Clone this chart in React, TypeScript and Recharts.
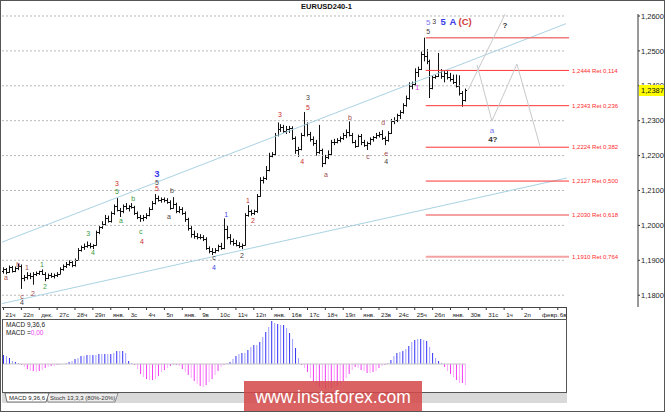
import { ComposedChart, Bar, Cell, XAxis, YAxis, ReferenceLine, ReferenceDot } from 'recharts'

// EURUSD H4, one row per trading day (6 bars)
const dayLabels = ['21ч', '22п', 'дек.', '27с', '28ч', '29п', 'янв.', '3с', '4ч', '5п', 'янв.', '9в', '10с', '11ч', '12п', 'янв.',
  '16в', '17с', '18ч', '19п', 'янв.', '23в', '24с', '25ч', '26п', 'янв.', '30в', '31с', '1ч', '2п', 'февр.', '6в']

const opens = [
  1.1870, 1.1875, 1.1866, 1.1880, 1.1870, 1.1878,
  1.1885, 1.1848, 1.1852, 1.1858, 1.1855, 1.1860,
  1.1864, 1.1868, 1.1862, 1.1850, 1.1858, 1.1855,
  1.1858, 1.1862, 1.1876, 1.1884, 1.1890, 1.1894,
  1.1886, 1.1902, 1.1930, 1.1938, 1.1942, 1.1945,
  1.1940, 1.1944, 1.1980, 1.1994, 1.2005, 1.2020,
  1.2012, 1.2035, 1.2055, 1.2045, 1.2040, 1.2055,
  1.2050, 1.2055, 1.2052, 1.2035, 1.2025, 1.2020,
  1.2025, 1.2030, 1.2048, 1.2065, 1.2078, 1.2072,
  1.2075, 1.2072, 1.2068, 1.2050, 1.2060, 1.2040,
  1.2048, 1.2035, 1.2018, 1.1992, 1.1975, 1.1970,
  1.1968, 1.1966, 1.1962, 1.1935, 1.1928, 1.1925,
  1.1930, 1.1940, 1.1935, 1.1990, 1.1968, 1.1955,
  1.1950, 1.1945, 1.1940, 1.1945, 1.2030, 1.2040,
  1.2035, 1.2040, 1.2085, 1.2130, 1.2135, 1.2160,
  1.2200, 1.2205, 1.2258, 1.2275, 1.2282, 1.2270,
  1.2275, 1.2280, 1.2250, 1.2215, 1.2220, 1.2258,
  1.2290, 1.2262, 1.2248, 1.2235, 1.2210, 1.2215,
  1.2180, 1.2195, 1.2205, 1.2238, 1.2240, 1.2245,
  1.2250, 1.2260, 1.2268, 1.2260, 1.2240, 1.2228,
  1.2255, 1.2238, 1.2230, 1.2235, 1.2248, 1.2252,
  1.2260, 1.2262, 1.2250, 1.2245, 1.2265, 1.2298,
  1.2302, 1.2315, 1.2325, 1.2345, 1.2365, 1.2400,
  1.2405, 1.2440, 1.2448, 1.2490, 1.2485, 1.2470,
  1.2395, 1.2425, 1.2428, 1.2440, 1.2428, 1.2438,
  1.2425, 1.2420, 1.2410, 1.2400, 1.2378, 1.2360,
]
const highs = [
  1.1880, 1.1878, 1.1885, 1.1884, 1.1882, 1.1890,
  1.1888, 1.1858, 1.1866, 1.1864, 1.1866, 1.1868,
  1.1870, 1.1874, 1.1866, 1.1862, 1.1864, 1.1862,
  1.1866, 1.1880, 1.1888, 1.1895, 1.1900, 1.1898,
  1.1905, 1.1935, 1.1942, 1.1948, 1.1954, 1.1950,
  1.1946, 1.1985, 1.1998, 1.2012, 1.2030, 1.2028,
  1.2040, 1.2060, 1.2078, 1.2050, 1.2060, 1.2064,
  1.2058, 1.2064, 1.2056, 1.2040, 1.2030, 1.2030,
  1.2035, 1.2052, 1.2070, 1.2090, 1.2085, 1.2080,
  1.2080, 1.2078, 1.2072, 1.2081, 1.2065, 1.2055,
  1.2052, 1.2040, 1.2022, 1.1998, 1.1985, 1.1978,
  1.1975, 1.1972, 1.1966, 1.1940, 1.1935, 1.1935,
  1.1945, 1.1950, 1.2020, 1.2000, 1.1975, 1.1962,
  1.1958, 1.1952, 1.1948, 1.2035, 1.2058, 1.2045,
  1.2045, 1.2090, 1.2138, 1.2140, 1.2170, 1.2208,
  1.2210, 1.2265, 1.2295, 1.2290, 1.2288, 1.2285,
  1.2285, 1.2284, 1.2255, 1.2225, 1.2265, 1.2325,
  1.2295, 1.2268, 1.2255, 1.2245, 1.2288, 1.2220,
  1.2202, 1.2215, 1.2245, 1.2248, 1.2250, 1.2255,
  1.2265, 1.2275, 1.2298, 1.2265, 1.2245, 1.2260,
  1.2262, 1.2245, 1.2240, 1.2252, 1.2256, 1.2265,
  1.2268, 1.2273, 1.2255, 1.2270, 1.2305, 1.2310,
  1.2320, 1.2330, 1.2350, 1.2372, 1.2410, 1.2412,
  1.2450, 1.2455, 1.2498, 1.2538, 1.2505, 1.2475,
  1.2430, 1.2432, 1.2494, 1.2448, 1.2445, 1.2442,
  1.2437, 1.2432, 1.2432, 1.2430, 1.2385, 1.2392,
]
const lows = [
  1.1862, 1.1860, 1.1864, 1.1865, 1.1866, 1.1872,
  1.1818, 1.1840, 1.1845, 1.1846, 1.1830, 1.1855,
  1.1858, 1.1858, 1.1840, 1.1846, 1.1850, 1.1848,
  1.1852, 1.1860, 1.1870, 1.1878, 1.1884, 1.1880,
  1.1882, 1.1900, 1.1925, 1.1930, 1.1936, 1.1934,
  1.1932, 1.1942, 1.1975, 1.1990, 1.2000, 1.2008,
  1.2008, 1.2030, 1.2040, 1.2024, 1.2035, 1.2045,
  1.2040, 1.2048, 1.2030, 1.2018, 1.2010, 1.2012,
  1.2018, 1.2026, 1.2044, 1.2060, 1.2068, 1.2065,
  1.2066, 1.2062, 1.2045, 1.2048, 1.2035, 1.2035,
  1.2030, 1.2010, 1.1985, 1.1965, 1.1962, 1.1960,
  1.1960, 1.1955, 1.1930, 1.1920, 1.1915, 1.1920,
  1.1925, 1.1930, 1.1932, 1.1960, 1.1945, 1.1942,
  1.1940, 1.1935, 1.1932, 1.1942, 1.2025, 1.2028,
  1.2030, 1.2036, 1.2082, 1.2120, 1.2130, 1.2155,
  1.2195, 1.2200, 1.2255, 1.2268, 1.2265, 1.2262,
  1.2265, 1.2245, 1.2205, 1.2196, 1.2215, 1.2255,
  1.2255, 1.2240, 1.2228, 1.2200, 1.2205, 1.2167,
  1.2175, 1.2190, 1.2200, 1.2230, 1.2235, 1.2238,
  1.2245, 1.2250, 1.2255, 1.2235, 1.2222, 1.2225,
  1.2230, 1.2225, 1.2216, 1.2230, 1.2240, 1.2248,
  1.2252, 1.2245, 1.2230, 1.2240, 1.2262, 1.2290,
  1.2296, 1.2305, 1.2320, 1.2340, 1.2360, 1.2390,
  1.2400, 1.2425, 1.2445, 1.2470, 1.2462, 1.2365,
  1.2390, 1.2420, 1.2425, 1.2420, 1.2410, 1.2418,
  1.2412, 1.2405, 1.2395, 1.2372, 1.2340, 1.2355,
]
const closes = [
  1.1875, 1.1866, 1.1880, 1.1870, 1.1878, 1.1885,
  1.1848, 1.1852, 1.1858, 1.1855, 1.1860, 1.1864,
  1.1868, 1.1862, 1.1850, 1.1858, 1.1855, 1.1858,
  1.1862, 1.1876, 1.1884, 1.1890, 1.1894, 1.1886,
  1.1902, 1.1930, 1.1938, 1.1942, 1.1945, 1.1940,
  1.1944, 1.1980, 1.1994, 1.2005, 1.2020, 1.2012,
  1.2035, 1.2055, 1.2045, 1.2040, 1.2055, 1.2050,
  1.2055, 1.2052, 1.2035, 1.2025, 1.2020, 1.2025,
  1.2030, 1.2048, 1.2065, 1.2078, 1.2072, 1.2075,
  1.2072, 1.2068, 1.2050, 1.2060, 1.2040, 1.2048,
  1.2035, 1.2018, 1.1992, 1.1975, 1.1970, 1.1968,
  1.1966, 1.1962, 1.1935, 1.1928, 1.1925, 1.1930,
  1.1940, 1.1935, 1.1990, 1.1968, 1.1955, 1.1950,
  1.1945, 1.1940, 1.1945, 1.2030, 1.2040, 1.2035,
  1.2040, 1.2085, 1.2130, 1.2135, 1.2160, 1.2200,
  1.2205, 1.2258, 1.2275, 1.2282, 1.2270, 1.2275,
  1.2280, 1.2250, 1.2215, 1.2220, 1.2258, 1.2290,
  1.2262, 1.2248, 1.2235, 1.2210, 1.2215, 1.2180,
  1.2195, 1.2205, 1.2238, 1.2240, 1.2245, 1.2250,
  1.2260, 1.2268, 1.2260, 1.2240, 1.2228, 1.2255,
  1.2238, 1.2230, 1.2235, 1.2248, 1.2252, 1.2260,
  1.2262, 1.2250, 1.2245, 1.2265, 1.2298, 1.2302,
  1.2315, 1.2325, 1.2345, 1.2365, 1.2400, 1.2405,
  1.2440, 1.2448, 1.2490, 1.2485, 1.2470, 1.2395,
  1.2425, 1.2428, 1.2440, 1.2428, 1.2438, 1.2425,
  1.2420, 1.2410, 1.2400, 1.2378, 1.2360, 1.2387,
]
// MACD 9,36,6 histogram, in points (0.0001)
const macdPts = [
  9, 8, 6, 3, 2, 1,
  -1, -3, -5, -7, -7, -8,
  -7, -6, -4, -3, -2, -2,
  -1, -1, 0, 1, 2, 3,
  5, 6, 8, 8, 9, 9,
  9, 9, 10, 10, 10, 10,
  10, 11, 13, 13, 13, 11,
  3, 1, -1, -5, -10, -13,
  -15, -16, -16, -15, -12, -8,
  -6, -4, -2, -1, -1, -2,
  -5, -8, -11, -14, -17, -20,
  -22, -23, -21, -18, -15, -11,
  -7, -3, -1, 1, 2, 5,
  8, 10, 11, 11, 14, 17,
  19, 19, 22, 27, 32, 37,
  43, 41, 40, 39, 39, 36,
  31, 25, 16, 6, -1, -4,
  -8, -14, -18, -21, -23, -24,
  -25, -25, -24, -23, -22, -20,
  -17, -14, -10, -6, -3, -4,
  -6, -7, -9, -9, -8, -7,
  -4, -2, -1, 1, 4, 8,
  11, 12, 13, 15, 18, 22,
  24, 25, 25, 24, 23, 17,
  11, 6, 3, 1, -3, -7,
  -10, -13, -16, -19, -19, -21,
]

const priceTicks = [1.18, 1.19, 1.20, 1.21, 1.22, 1.23, 1.24, 1.25, 1.26]
const lastPrice = 1.2387

// retracement grid drawn from the 5-wave top
const fibTop = 1.2538
const fibLevels = [1.2444, 1.2343, 1.2224, 1.2127, 1.2030, 1.1910]
const fibRatios = ['0,114', '0,236', '0,382', '0,500', '0,618', '0,764']
const fibFrom = 141.7
const fibTo = 189.8
const fibLabelAt = 190.8

// trend channel and forecast paths, [bar, price]
const upperChannel = [[-0.5, 1.1952], [188.76, 1.2578]]
const lowerChannel = [[-0.5, 1.1776], [189.1, 1.2136]]
const forecastUp = [[155.9, 1.2388], [168.3, 1.2605]]
const forecastZig = [[158.9, 1.2460], [163.9, 1.2299], [172.3, 1.2462], [180.0, 1.2228]]

type Ann = [number, number, string]
const redLabels: Ann[] = [[38.1, 1.2119, '3'], [46.5, 1.1955, '4'], [51.5, 1.2107, '5'], [82.0, 1.2070, '1'], [83.7, 1.2013, '2'], [92.8, 1.2319, '3'], [100.2, 1.2182, '4'], [102.2, 1.2339, '5']]
const brownLabels: Ann[] = [[0.8, 1.1852, 'a'], [4.9, 1.1889, 'b'], [7.9, 1.1878, '1'], [6.2, 1.1795, 'c'], [9.9, 1.1806, '2'], [108.2, 1.2147, 'a'], [116.3, 1.2308, 'b'], [122.3, 1.2196, 'c'], [127.4, 1.2296, 'd'], [128.4, 1.2207, 'e']]
const greenLabels: Ann[] = [[12.9, 1.1889, '1'], [13.9, 1.1826, '2'], [28.4, 1.1978, '3'], [30.0, 1.1921, '4'], [38.1, 1.2096, '5'], [39.4, 1.2013, 'a'], [43.5, 1.2076, 'b'], [46.1, 1.1981, 'c']]
const darkLabels: Ann[] = [[6.2, 1.1778, '4'], [51.5, 1.2124, '5'], [55.5, 1.2024, 'a'], [56.5, 1.2101, 'b'], [70.6, 1.1907, 'c'], [80.0, 1.1915, '2'], [102.2, 1.2365, '3'], [128.4, 1.2182, '4'], [142.5, 1.2554, '5'], [144.5, 1.2583, '3']]
const blueLabels: Ann[] = [[70.6, 1.1878, '4'], [74.7, 1.2030, '1']]
const lightBlueLabels: Ann[] = [[142.5, 1.2583, '5'], [163.9, 1.2273, 'a']]
const bigBlueLabels: Ann[] = [[51.5, 1.2147, '3'], [147.5, 1.2583, '5'], [150.8, 1.2583, 'A']]
const bigRedLabels: Ann[] = [[154.9, 1.2583, '(C)']]
const magentaLabels: Ann[] = [[138.8, 1.2397, '1']]
const questionLabels: Ann[] = [[168.3, 1.2574, '?'], [164.2, 1.2248, '4?']]

const FONT = '"Liberation Sans", Arial, sans-serif'
const W = 665
const PLOT_TOP = 14
const PLOT_BOTTOM = 307
const X_MIN = -0.5
const X_MAX = 212.92
const Y_MIN = 1.17662
const Y_MAX = 1.26057
const GRID_END = 188.76

const bars = opens.map((o, i) => ({
  i, open: o, high: highs[i], low: lows[i], close: closes[i],
  range: [lows[i], highs[i]], macd: macdPts[i],
}))

const OhlcShape = (props: any) => {
  const { x, y, width, height, payload } = props
  if (!payload || height == null) return <g />
  const top = Math.min(y, y + height)
  const h = Math.abs(height)
  const cx = Math.round(x + width / 2) + 0.5
  const k = payload.high > payload.low ? h / (payload.high - payload.low) : 0
  const yo = Math.round(top + (payload.high - payload.open) * k) + 0.5
  const yc = Math.round(top + (payload.high - payload.close) * k) + 0.5
  return <g stroke="#111" strokeWidth={1}>
    <line x1={cx} x2={cx} y1={top} y2={top + Math.max(h, 1)} />
    <line x1={cx - 1.5} x2={cx} y1={yo} y2={yo} />
    <line x1={cx} x2={cx + 1.5} y1={yc} y2={yc} />
  </g>
}

const DayTick = ({ x, payload }: any) => {
  const k = Math.round(payload.value / 6)
  return <g>
    <line x1={x} x2={x} y1={PLOT_BOTTOM} y2={PLOT_BOTTOM + 3} stroke="#333" />
    <text x={x + 2} y={PLOT_BOTTOM + 10} fontSize={6.2} fill="#222" fontFamily={FONT}>{dayLabels[k]}</text>
  </g>
}

const segments = (pts: number[][], stroke: string, key: string, width = 1) =>
  pts.slice(1).map((p, n) => (
    <ReferenceLine key={key + n} segment={[{ x: pts[n][0], y: pts[n][1] }, { x: p[0], y: p[1] }]}
      stroke={stroke} strokeWidth={width} ifOverflow="visible" />
  ))

const texts = (list: Ann[], color: string, key: string, size = 7, weight = 400) =>
  list.map((a, n) => (
    <ReferenceDot key={key + n} x={a[0]} y={a[1]} r={0} ifOverflow="visible"
      shape={(p: any) => <text x={p.cx} y={p.cy} dy="0.35em" textAnchor="middle" fontSize={size}
        fontWeight={weight} fill={color} fontFamily={FONT}>{a[2]}</text>} />
  ))

const fmt = (v: number) => v.toFixed(4).replace('.', ',')

// price tag sits on the right price scale, above the tick labels
const tagTop = PLOT_TOP + (Y_MAX - lastPrice) / (Y_MAX - Y_MIN) * (PLOT_BOTTOM - PLOT_TOP)

function MainChart() {
  return (
    <ComposedChart width={W} height={319} data={bars} margin={{ top: PLOT_TOP, right: 0, left: 2, bottom: 0 }}>
      <XAxis dataKey="i" type="number" domain={[X_MIN, X_MAX]} allowDataOverflow ticks={dayLabels.map((_, k) => k * 6)}
        interval={0} axisLine={false} tickLine={false} height={12} tick={<DayTick />} />
      <YAxis orientation="right" type="number" domain={[Y_MIN, Y_MAX]} allowDataOverflow ticks={priceTicks}
        width={27} tickFormatter={fmt} tickSize={2} tickMargin={1} axisLine={{ stroke: '#333' }} tickLine={{ stroke: '#333' }}
        tick={{ fontSize: 7.5, fill: '#222', fontFamily: FONT }} />
      {priceTicks.map(p => (
        <ReferenceLine key={'g' + p} segment={[{ x: X_MIN, y: p }, { x: GRID_END, y: p }]} stroke="#b8b8b8"
          strokeDasharray="2 2" ifOverflow="visible" />
      ))}
      {segments(upperChannel, '#a9d2e3', 'uc')}
      {segments(lowerChannel, '#a9d2e3', 'lc')}
      <ReferenceLine segment={[{ x: fibFrom, y: fibTop }, { x: fibTo, y: fibTop }]} stroke="#f07a7a" strokeWidth={1.5} ifOverflow="visible" />
      {fibLevels.map((p, k) => (
        <ReferenceLine key={'f' + k} segment={[{ x: fibFrom, y: p }, { x: fibTo, y: p }]}
          stroke={k >= 4 ? '#f4a3a3' : '#ff3535'} strokeWidth={k >= 4 ? 2 : 1} ifOverflow="visible" />
      ))}
      {fibLevels.map((p, k) => (
        <ReferenceDot key={'fl' + k} x={fibLabelAt} y={p} r={0} ifOverflow="visible"
          shape={(s: any) => <text x={s.cx} y={s.cy} dy="0.35em" fontSize={6} fill="#ff2a2a" fontFamily={FONT}>
            {fmt(p) + ' Ret ' + fibRatios[k]}</text>} />
      ))}
      {segments(forecastUp, '#c9c9c9', 'fu')}
      {segments(forecastZig, '#c9c9c9', 'fz')}
      <Bar dataKey="range" barSize={3} shape={OhlcShape} isAnimationActive={false} />
      {texts(redLabels, '#cc3030', 'r')}
      {texts(brownLabels, '#a34c4c', 'br')}
      {texts(greenLabels, '#3c9a3c', 'gr')}
      {texts(darkLabels, '#4a4040', 'dk')}
      {texts(blueLabels, '#4646e6', 'bl')}
      {texts(lightBlueLabels, '#7676f0', 'lb', 8)}
      {texts(bigBlueLabels, '#3b3be8', 'bb', 9.5, 700)}
      {texts(bigRedLabels, '#d03a3a', 'rr', 9.5, 700)}
      {texts(magentaLabels, '#e040e0', 'mg', 8)}
      {texts(questionLabels, '#333', 'q', 8, 700)}
    </ComposedChart>
  )
}

function MacdChart() {
  return (
    <ComposedChart width={W} height={74} data={bars} margin={{ top: 1, right: 27, left: 2, bottom: 1 }}>
      <XAxis dataKey="i" type="number" domain={[X_MIN, X_MAX]} allowDataOverflow hide />
      <YAxis type="number" domain={[-28, 44]} allowDataOverflow hide />
      <ReferenceLine segment={[{ x: 0, y: 0 }, { x: bars.length - 1, y: 0 }]} stroke="#c4c4c4" ifOverflow="visible" />
      <Bar dataKey="macd" barSize={1} isAnimationActive={false}>
        {bars.map((b, n) => (
          <Cell key={n} fill={b.macd >= 0 ? (n % 2 ? '#9c9cff' : '#2f2ff5') : (n % 2 ? '#ffa8ff' : '#f23cf2')} />
        ))}
      </Bar>
    </ComposedChart>
  )
}

export default function App() {
  return (
    <div style={{ position: 'absolute', left: 0, top: 0, width: W, height: 412, background: '#fff', overflow: 'hidden', fontFamily: FONT }}>
      <div style={{ position: 'absolute', left: 0, top: 2, width: W, textAlign: 'center', fontSize: 7.5, fontWeight: 700, color: '#111' }}>
        <span style={{ position: 'relative', left: -6 }}>EURUSD240-1</span>
      </div>
      <div style={{ position: 'absolute', left: 0, top: 0 }}><MainChart /></div>
      <div style={{ position: 'absolute', left: 639, top: Math.round(tagTop) - 5, width: 26, height: 11, background: '#ffff00',
        fontSize: 7.5, lineHeight: '11px', color: '#111', paddingLeft: 2, boxSizing: 'border-box' }}>{fmt(lastPrice)}</div>
      <div style={{ position: 'absolute', left: 2, top: PLOT_BOTTOM, width: 565, height: 1, background: '#444' }} />
      <div style={{ position: 'absolute', left: 566, top: PLOT_BOTTOM, width: 1, height: 12, background: '#444' }} />
      <div style={{ position: 'absolute', left: 0, top: 319 }}><MacdChart /></div>
      <div style={{ position: 'absolute', left: 2, top: 319, width: 565, height: 74, border: '1px solid #555', boxSizing: 'border-box' }} />
      <div style={{ position: 'absolute', left: 6, top: 321, fontSize: 6.5, color: '#222', lineHeight: '8px' }}>
        <div>MACD 9,36,6</div>
        <div>MACD =<span style={{ color: '#f03cf0' }}>0,00</span></div>
      </div>
      <svg style={{ position: 'absolute', left: 2, top: 393 }} width={565} height={10}>
        <rect x={0} y={0} width={565} height={10} fill="#d9d9d9" />
        <polygon points="44,0 116,0 113,9 46,9" fill="#ececec" stroke="#777" strokeWidth={0.8} />
        <polygon points="3,0 47,0 44,9 5,9" fill="#fff" stroke="#555" strokeWidth={0.8} />
        <text x={7} y={7} fontSize={6} fill="#222" fontFamily={FONT}>MACD 9,36,6</text>
        <text x={48} y={7} fontSize={6} fill="#333" fontFamily={FONT}>Stoch 13,3,3 (80%-20%)</text>
      </svg>
      <div style={{ position: 'absolute', left: 244, top: 381, width: 178, height: 31, background: 'rgba(212,72,72,0.86)',
        display: 'flex', alignItems: 'center', justifyContent: 'center', color: '#fff', fontSize: 17.5, fontFamily: FONT, paddingTop: 2, boxSizing: 'border-box' }}>
        www.instaforex.com
      </div>
      <div style={{ position: 'absolute', left: 0, top: 0, width: W, height: 412, border: '1px solid #555', boxSizing: 'border-box', pointerEvents: 'none' }} />
    </div>
  )
}
